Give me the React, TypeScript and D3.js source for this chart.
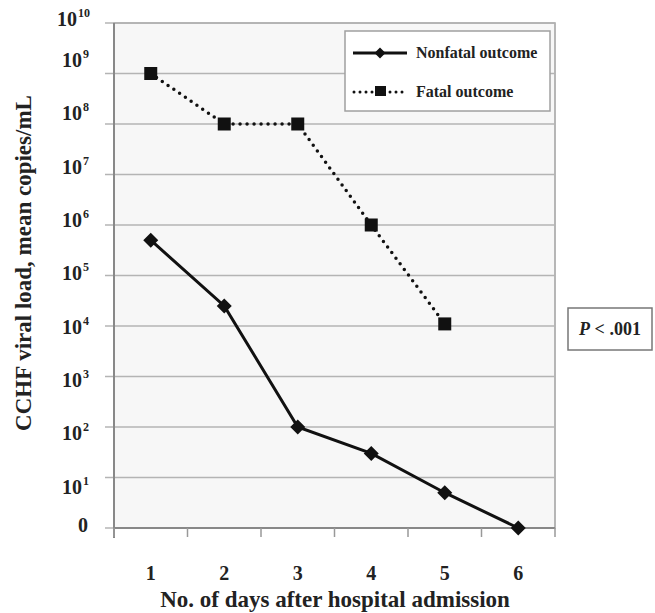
import React from "react";
import * as d3 from "d3";

const days = [1, 2, 3, 4, 5, 6];
const nonfatal = [5e5, 2.5e4, 100, 30, 5, 1];
const fatalDays = [1, 2, 3, 4, 5];
const fatal = [1e9, 1e8, 1e8, 1e6, 1.1e4];
const exponents = [0, 1, 2, 3, 4, 5, 6, 7, 8, 9, 10];
const seriesNames = ["Nonfatal outcome", "Fatal outcome"];
const xTitle = "No. of days after hospital admission";
const yTitle = "CCHF viral load, mean copies/mL";
const pText = ".001";

const W = 655;
const H = 613;
const left = 114, right = 555, top = 23, bottom = 528;
const serif = "'Liberation Serif', 'Times New Roman', serif";

export default function App() {
  const x = d3.scaleBand<number>().domain(days).range([left, right]);
  const cx = (d: number) => (x(d) as number) + x.bandwidth() / 2;
  const y = d3.scaleLog().domain([1, 1e10]).range([bottom, top]);
  // label placement (labels in the original are spaced slightly differently from gridlines)
  const labelY = d3.scaleLinear().domain([0, 1, 9, 10]).range([525, 487, 60, 19.5]);

  const lineNF = d3.line<number>().x((_, i) => cx(days[i])).y((v) => y(v));
  const lineF = d3.line<number>().x((_, i) => cx(fatalDays[i])).y((v) => y(v));

  const bandEdges = days.map((d) => x(d) as number).concat([right]);

  const diamond = (px: number, py: number, r: number) =>
    `M${px},${py - r}L${px + r},${py}L${px},${py + r}L${px - r},${py}Z`;

  return (
    <svg width={W} height={H} style={{ position: "absolute", left: 0, top: 0, background: "#fff" }}>
      <rect x={left} y={top} width={right - left} height={bottom - top} fill="#f7f7f7" stroke="#a0a0a0" strokeWidth={1.5} />
      {exponents.map((e) => (
        <line key={"g" + e} x1={105} x2={right} y1={y(Math.pow(10, e))} y2={y(Math.pow(10, e))} stroke="#b4b4b4" strokeWidth={1.5} />
      ))}
      {/* axes */}
      <line x1={left} x2={left} y1={top} y2={538} stroke="#888" strokeWidth={2} />
      <line x1={left} x2={right} y1={bottom} y2={bottom} stroke="#888" strokeWidth={2} />
      {bandEdges.map((bx, i) => (
        <line key={"xt" + i} x1={bx} x2={bx} y1={bottom} y2={537} stroke="#999" strokeWidth={1.5} />
      ))}
      {/* y tick labels */}
      {exponents.map((e) =>
        e === 0 ? (
          <text key={"yl" + e} x={78} y={labelY(e)} dy="0.34em" fontFamily={serif} fontWeight="bold" fontSize={20} fill="#222">0</text>
        ) : (
          <text key={"yl" + e} x={e === 10 ? 57 : 62} y={labelY(e)} dy="0.34em" fontFamily={serif} fontWeight="bold" fontSize={20} fill="#222">
            10<tspan fontSize={12} dy="-0.75em" dx="1">{e}</tspan>
          </text>
        )
      )}
      {/* x tick labels */}
      {days.map((d) => (
        <text key={"xl" + d} x={cx(d)} y={580} textAnchor="middle" fontFamily={serif} fontWeight="bold" fontSize={20} fill="#222">{d}</text>
      ))}
      <text x={335} y={607} textAnchor="middle" fontFamily={serif} fontWeight="bold" fontSize={23} fill="#222">{xTitle}</text>
      <text transform={`translate(31,${263}) rotate(-90)`} textAnchor="middle" fontFamily={serif} fontWeight="bold" fontSize={23} fill="#222">{yTitle}</text>

      {/* series */}
      <path d={lineF(fatal) as string} fill="none" stroke="#111" strokeWidth={3.5} strokeDasharray="0 7" strokeLinecap="round" />
      {fatal.map((v, i) => (
        <rect key={"f" + i} x={cx(fatalDays[i]) - 6.5} y={y(v) - 6.5} width={13} height={13} fill="#111" />
      ))}
      <path d={lineNF(nonfatal) as string} fill="none" stroke="#111" strokeWidth={3} />
      {nonfatal.map((v, i) => (
        <path key={"n" + i} d={diamond(cx(days[i]), y(v), 7.5)} fill="#111" />
      ))}

      {/* legend */}
      <rect x={345} y={31} width={205} height={80} fill="#fff" stroke="#a0a0a0" strokeWidth={1.5} />
      <line x1={353} x2={407} y1={53} y2={53} stroke="#111" strokeWidth={3} />
      <path d={diamond(380, 53, 5.5)} fill="#111" />
      <text x={416} y={58} fontFamily={serif} fontWeight="bold" fontSize={16} fill="#222">{seriesNames[0]}</text>
      <line x1={354} x2={407} y1={92} y2={92} stroke="#111" strokeWidth={3} strokeDasharray="0 6" strokeLinecap="round" />
      <rect x={375} y={86} width={11} height={10} fill="#111" />
      <text x={416} y={97} fontFamily={serif} fontWeight="bold" fontSize={16} fill="#222">{seriesNames[1]}</text>

      {/* P box */}
      <rect x={568} y={308} width={84} height={42} fill="#fff" stroke="#777" strokeWidth={1.5} />
      <text x={610} y={335} textAnchor="middle" fontFamily={serif} fontWeight="bold" fontSize={18} fill="#222">
        <tspan fontStyle="italic">P</tspan> {"<"} {pText}
      </text>
    </svg>
  );
}
